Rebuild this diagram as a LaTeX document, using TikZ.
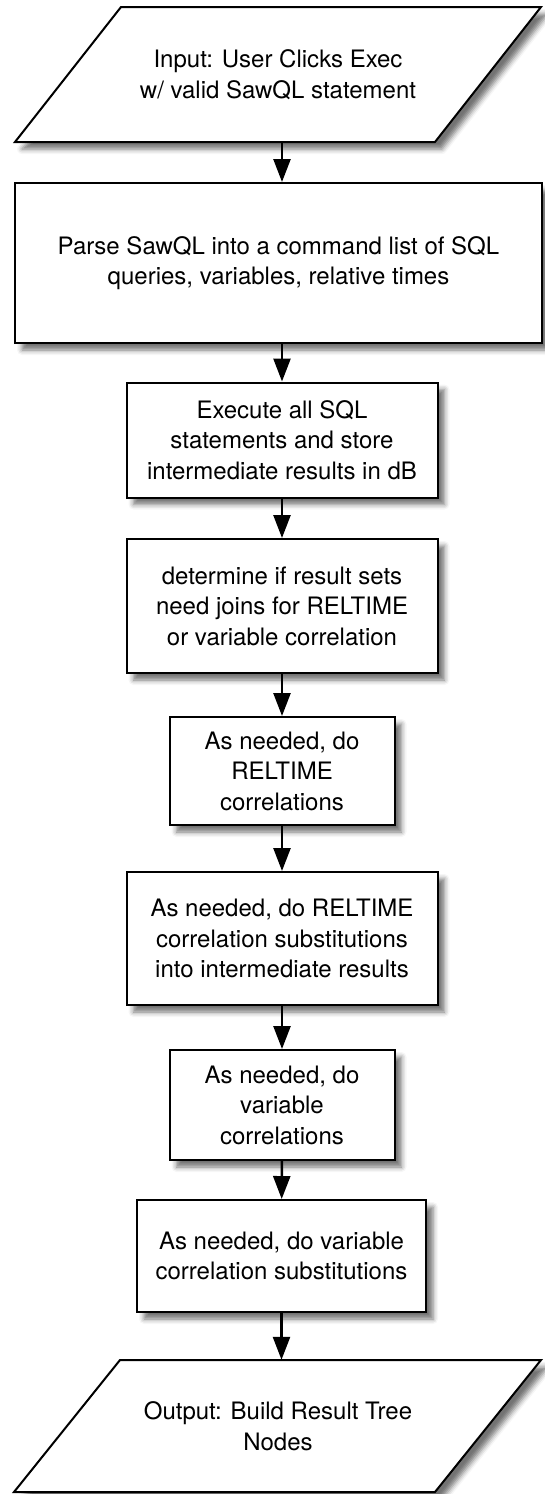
\documentclass[tikz,border=0pt]{standalone}
\usepackage{fontspec}
\setmainfont{TeX Gyre Heros}
\usetikzlibrary{arrows.meta,shadows.blur,calc}

\tikzset{
  softshadow/.style={blur shadow={shadow xshift=7pt, shadow yshift=-7pt,
      shadow blur radius=5pt, shadow opacity=55}},
  stepbox/.style={draw=black, line width=2pt, fill=white, rectangle,
      align=center, inner sep=0pt, softshadow,
      font=\fontsize{24}{30.5}\selectfont},
  iolabel/.style={draw=none, rectangle, align=center, inner sep=0pt,
      font=\fontsize{24}{30.5}\selectfont},
  ioshape/.style={draw=black, line width=2pt, fill=white, line join=miter, softshadow},
  flow/.style={draw=black, line width=2.5pt, -{Triangle[width=17pt,length=23pt]}},
}

\begin{document}
\begin{tikzpicture}[x=1pt, y=-1pt]
\useasboundingbox (0,0) rectangle (544,1494);

% input parallelogram
\path[ioshape] (121,7) -- (541,7) -- (435,142) -- (15,142) -- cycle;
\node[iolabel, minimum width=420pt, minimum height=135pt] (in) at (278,74.5)
  {Input: User Clicks Exec\\w/ valid SawQL statement};

% processing steps
\node[stepbox, minimum width=527pt, minimum height=160pt] (parse) at (278.5,263)
  {Parse SawQL into a command list of SQL\\queries, variables, relative times};
\node[stepbox, minimum width=311pt, minimum height=115pt] (exec) at (282,440)
  {Execute all SQL\\statements and store\\intermediate results in dB};
\node[stepbox, minimum width=311pt, minimum height=134pt] (joins) at (282,606)
  {determine if result sets\\need joins for RELTIME\\or variable correlation};
\node[stepbox, minimum width=225pt, minimum height=108pt] (relcor) at (282,771)
  {As needed, do\\RELTIME\\correlations};
\node[stepbox, minimum width=311pt, minimum height=133pt] (relsub) at (282,938.5)
  {As needed, do RELTIME\\correlation substitutions\\into intermediate results};
\node[stepbox, minimum width=225pt, minimum height=110pt] (varcor) at (282,1105)
  {As needed, do\\variable\\correlations};
\node[stepbox, minimum width=289pt, minimum height=112pt] (varsub) at (281.5,1256)
  {As needed, do variable\\correlation substitutions};

% output parallelogram
\path[ioshape] (120,1360) -- (541,1360) -- (435,1492) -- (14,1492) -- cycle;
\node[iolabel, minimum width=420pt, minimum height=132pt] (out) at (278,1426)
  {Output: Build Result Tree\\Nodes};

% connectors
\draw[flow] (in.south -| exec.north) -- (parse.north -| exec.north);
\draw[flow] (parse.south -| exec.north) -- (exec.north);
\draw[flow] (exec) -- (joins);
\draw[flow] (joins) -- (relcor);
\draw[flow] (relcor) -- (relsub);
\draw[flow] (relsub) -- (varcor);
\draw[flow] (varcor) -- (varsub);
\draw[flow] (varsub.south) -- (out.north -| varsub.south);
\end{tikzpicture}
\end{document}
